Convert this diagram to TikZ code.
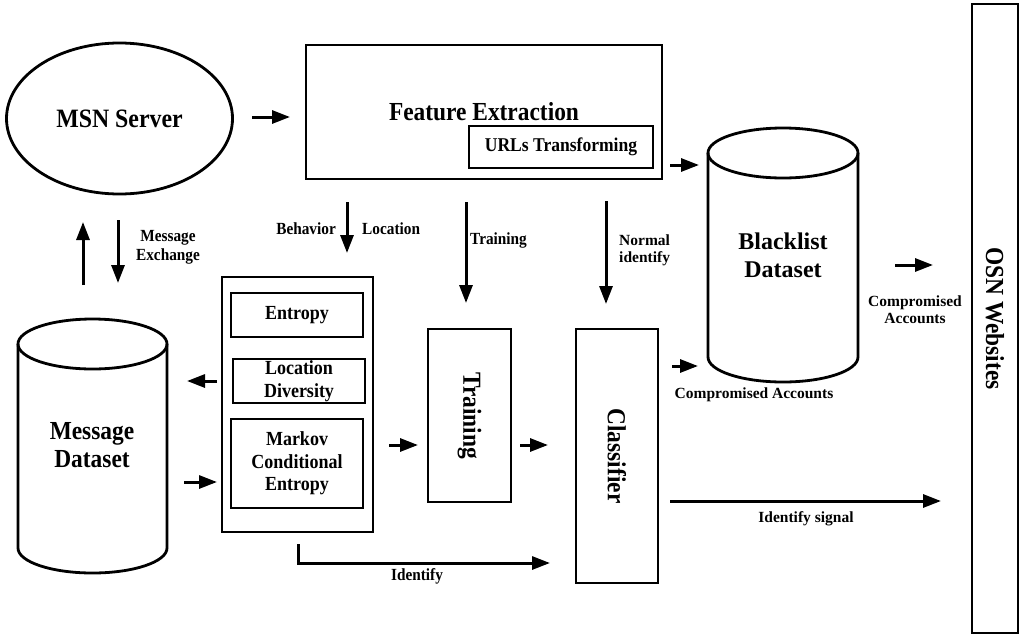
\documentclass[tikz,border=0pt]{standalone}
\usepackage{fontspec}
\setmainfont[FakeStretch=0.9]{Liberation Serif}
\newfontfamily\widefont{Liberation Serif}
\usetikzlibrary{arrows.meta,shapes.geometric}
\newcommand\fBig{\fontsize{26}{28}\selectfont\bfseries}
\newcommand\fMsn{\fontsize{26.5}{28}\selectfont\bfseries}
\newcommand\fUrl{\fontsize{19.5}{22}\selectfont\bfseries}
\newcommand\fMid{\fontsize{20}{22.5}\selectfont\bfseries}
\newcommand\fSm{\fontsize{17}{19}\selectfont\bfseries}
\newcommand\fWideBig{\widefont\fontsize{24}{28}\selectfont\bfseries}
\newcommand\fWideSm{\widefont\fontsize{15.5}{17}\selectfont\bfseries}
\tikzset{
  box/.style={draw, line width=2.8pt, inner sep=0pt, align=center},
  shp/.style={line width=2.8pt},
  arr/.style={line width=3pt, -{Triangle[length=18pt,width=13pt]}},
  lbl/.style={inner sep=0pt, align=center},
}
\begin{document}
\begin{tikzpicture}[x=1pt,y=-1pt]
\useasboundingbox (0,0) rectangle (1024,640);
% MSN server
\node[ellipse, box, minimum width=226pt, minimum height=151pt, font=\fMsn] (msn) at (119.5,118.5) {MSN Server};
% Feature extraction
\node[box, minimum width=356pt, minimum height=134pt] (fe) at (484,112) {};
\node[lbl, font=\fBig] (fet) at (484,112) {Feature Extraction};
\node[box, minimum width=184pt, minimum height=42pt, font=\fUrl] (url) at (561,147) {URLs Transforming};
% Blacklist cylinder
\draw[shp] (783,153) ellipse [x radius=75, y radius=25];
\draw[shp] (708,153) -- (708,357) arc[start angle=180, end angle=0, x radius=75, y radius=25] -- (858,153);
\node[lbl, font=\fWideBig] (bl) at (783,255) {Blacklist\\Dataset};
% Message dataset cylinder
\draw[shp] (92.5,344) ellipse [x radius=74.5, y radius=25];
\draw[shp] (18,344) -- (18,548) arc[start angle=180, end angle=0, x radius=74.5, y radius=25] -- (167,344);
\node[lbl, font=\fBig] (md) at (92,445) {Message\\Dataset};
% feature group
\node[box, minimum width=151pt, minimum height=255pt] (grp) at (297.5,404.5) {};
\node[box, minimum width=132pt, minimum height=44pt, font=\fMid] (ent) at (297,315) {Entropy};
\node[box, minimum width=132pt, minimum height=44pt, font=\fMid] (loc) at (299,381) {Location\\Diversity};
\node[box, minimum width=132pt, minimum height=89pt, font=\fMid] (mk) at (297,463.5) {Markov\\Conditional\\Entropy};
% Training, Classifier, OSN
\node[box, rotate=-90, minimum width=173pt, minimum height=83pt, font=\fBig] (tr) at (469.5,415.5) {Training};
\node[box, rotate=-90, minimum width=254pt, minimum height=82pt, font=\fBig] (cl) at (617,456) {Classifier};
\node[box, rotate=-90, minimum width=629pt, minimum height=46pt, font=\fBig] (osn) at (995,318.5) {OSN Websites};
% arrows
\draw[arr] (252,117) -- (290,117);
\draw[arr] (670,165) -- (699,165);
\draw[arr] (83,285) -- (83,222);
\draw[arr] (118,220) -- (118,283);
\node[lbl, font=\fSm] (mex) at (168,247.5) {Message\\Exchange};
\draw[arr] (347,202) -- (347,253);
\node[lbl, font=\fSm, anchor=east] (beh) at (336,229) {Behavior};
\node[lbl, font=\fSm, anchor=west] (locl) at (362,229) {Location};
\draw[arr] (466,202) -- (466,303);
\node[lbl, font=\fSm, anchor=west] (trl) at (470,240) {Training};
\draw[arr] (606,201) -- (606,304);
\node[lbl, font=\fWideSm, anchor=west, align=left] (ni) at (619,250) {Normal\\identify};
\draw[arr] (217,381) -- (187,381);
\draw[arr] (184,482) -- (217,482);
\draw[arr] (389,445) -- (418,445);
\draw[arr] (520,445) -- (548,445);
\draw[arr] (298,544) |- (550,563);
\node[lbl, font=\fSm] (idl) at (417,576) {Identify};
\draw[arr] (672,366) -- (698,366);
\node[lbl, font=\fWideSm] (ca1) at (754,395) {Compromised Accounts};
\draw[arr] (895,265) -- (933,265);
\node[lbl, font=\fWideSm] (ca2) at (915,309.5) {Compromised\\Accounts};
\draw[arr] (670,501) -- (941,501);
\node[lbl, font=\fWideSm] (isg) at (806,519) {Identify signal};
\end{tikzpicture}
\end{document}
